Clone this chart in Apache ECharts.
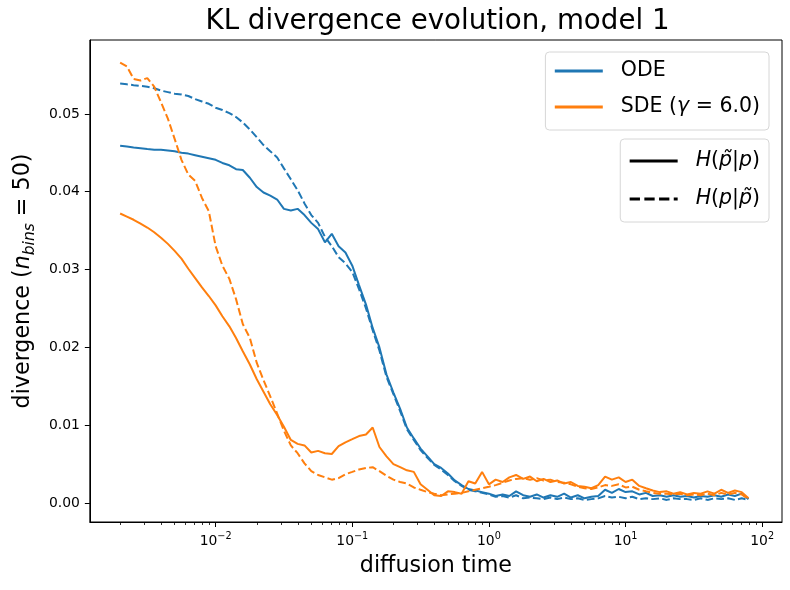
<!DOCTYPE html>
<html>
<head>
<meta charset="utf-8">
<script src="https://cdn.jsdelivr.net/npm/echarts@6/dist/echarts.min.js"></script>
<style>
  html, body { margin: 0; padding: 0; background: #fff; }
  #chart { width: 790px; height: 590px; }
</style>
</head>
<body>
<div id="chart"></div>
<script>
// diffusion times (log spaced)
const times = [
  0.0020, 0.00224, 0.00251, 0.00282, 0.00316, 0.00355, 0.00398, 0.00447, 0.00501, 0.00562,
  0.00631, 0.00708, 0.00794, 0.00891, 0.0100, 0.0112, 0.0126, 0.0141, 0.0158, 0.0178,
  0.0200, 0.0224, 0.0251, 0.0282, 0.0316, 0.0355, 0.0398, 0.0447, 0.0501, 0.0562,
  0.0631, 0.0708, 0.0794, 0.0891, 0.100, 0.112, 0.126, 0.141, 0.158, 0.178,
  0.200, 0.224, 0.251, 0.282, 0.316, 0.355, 0.398, 0.447, 0.501, 0.562,
  0.631, 0.708, 0.794, 0.891, 1.00, 1.12, 1.26, 1.41, 1.58, 1.78,
  2.00, 2.24, 2.51, 2.82, 3.16, 3.55, 3.98, 4.47, 5.01, 5.62,
  6.31, 7.08, 7.94, 8.91, 10.0, 11.2, 12.6, 14.1, 15.8, 17.8,
  20.0, 22.4, 25.1, 28.2, 31.6, 35.5, 39.8, 44.7, 50.1, 56.2,
  63.1, 70.8, 79.4
];

// ODE, H(p~|p)
const odeFwd = [
  0.0459, 0.0458, 0.0457, 0.0456, 0.0455, 0.0454, 0.0454, 0.0453, 0.0452, 0.0450,
  0.0449, 0.0447, 0.0445, 0.0443, 0.0441, 0.0437, 0.0434, 0.0429, 0.0428, 0.0418,
  0.0406, 0.0399, 0.0395, 0.0390, 0.0378, 0.0376, 0.0378, 0.0370, 0.0360, 0.0352,
  0.0335, 0.0346, 0.0330, 0.0322, 0.0305, 0.0280, 0.0255, 0.0225, 0.0200, 0.0165,
  0.0142, 0.0121, 0.0097, 0.0083, 0.0070, 0.0060, 0.0050, 0.0045, 0.0038, 0.0029,
  0.0023, 0.0018, 0.0016, 0.0014, 0.0012, 0.0009, 0.0011, 0.0009, 0.0015, 0.0010,
  0.0008, 0.0011, 0.0007, 0.0010, 0.0008, 0.0012, 0.0007, 0.0010, 0.0006, 0.0008,
  0.0009, 0.0017, 0.0013, 0.0018, 0.0014, 0.0015, 0.0011, 0.0013, 0.0009, 0.0010,
  0.0008, 0.0010, 0.0008, 0.0009, 0.0007, 0.0009, 0.0008, 0.0010, 0.0008, 0.0011,
  0.0009, 0.0012, 0.0005
];
// ODE, H(p|p~)
const odeRev = [
  0.0539, 0.0538, 0.0537, 0.0536, 0.0535, 0.0533, 0.0530, 0.0528, 0.0526, 0.0525,
  0.0523, 0.0519, 0.0516, 0.0513, 0.0508, 0.0505, 0.0501, 0.0496, 0.0489, 0.0480,
  0.0470, 0.0460, 0.0452, 0.0444, 0.0430, 0.0416, 0.0402, 0.0385, 0.0370, 0.0360,
  0.0342, 0.0330, 0.0316, 0.0308, 0.0297, 0.0275, 0.0250, 0.0222, 0.0196, 0.0162,
  0.0140, 0.0118, 0.0095, 0.0081, 0.0068, 0.0058, 0.0049, 0.0043, 0.0036, 0.0028,
  0.0022, 0.0017, 0.0015, 0.0013, 0.0011, 0.0008, 0.0009, 0.0007, 0.0010, 0.0006,
  0.0007, 0.0006, 0.0005, 0.0007, 0.0005, 0.0007, 0.0005, 0.0006, 0.0004, 0.0005,
  0.0006, 0.0009, 0.0007, 0.0008, 0.0006, 0.0008, 0.0005, 0.0006, 0.0005, 0.0006,
  0.0004, 0.0006, 0.0005, 0.0005, 0.0004, 0.0006, 0.0004, 0.0006, 0.0005, 0.0006,
  0.0004, 0.0006, 0.0004
];
// SDE, H(p~|p)
const sdeFwd = [
  0.0372, 0.0368, 0.0364, 0.0359, 0.0354, 0.0348, 0.0341, 0.0333, 0.0324, 0.0314,
  0.0301, 0.0289, 0.0277, 0.0266, 0.0254, 0.0240, 0.0227, 0.0212, 0.0195, 0.0178,
  0.0159, 0.0143, 0.0127, 0.0113, 0.0098, 0.0081, 0.0076, 0.0074, 0.0065, 0.0067,
  0.0064, 0.0063, 0.0073, 0.0078, 0.0082, 0.0086, 0.0088, 0.0097, 0.0072, 0.0060,
  0.0050, 0.0046, 0.0042, 0.0040, 0.0024, 0.0017, 0.0010, 0.0009, 0.0015, 0.0014,
  0.0012, 0.0028, 0.0025, 0.0040, 0.0024, 0.0030, 0.0027, 0.0033, 0.0036, 0.0031,
  0.0034, 0.0028, 0.0031, 0.0027, 0.0029, 0.0025, 0.0027, 0.0022, 0.0021, 0.0019,
  0.0023, 0.0034, 0.0030, 0.0033, 0.0027, 0.0030, 0.0022, 0.0019, 0.0016, 0.0014,
  0.0015, 0.0012, 0.0014, 0.0011, 0.0013, 0.0012, 0.0015, 0.0012, 0.0017, 0.0013,
  0.0016, 0.0014, 0.0006
];
// SDE, H(p|p~)
const sdeRev = [
  0.0566, 0.0561, 0.0545, 0.0543, 0.0546, 0.0535, 0.0515, 0.0494, 0.0468, 0.0441,
  0.0422, 0.0414, 0.0392, 0.0375, 0.0330, 0.0305, 0.0288, 0.0262, 0.0230, 0.0212,
  0.0180, 0.0158, 0.0137, 0.0115, 0.0093, 0.0074, 0.0064, 0.0051, 0.0041, 0.0036,
  0.0033, 0.0030, 0.0032, 0.0037, 0.0040, 0.0043, 0.0045, 0.0046, 0.0041, 0.0035,
  0.0030, 0.0027, 0.0025, 0.0020, 0.0017, 0.0014, 0.0012, 0.0010, 0.0011, 0.0012,
  0.0013, 0.0015, 0.0017, 0.0019, 0.0021, 0.0023, 0.0026, 0.0029, 0.0031, 0.0032,
  0.0030, 0.0032, 0.0029, 0.0030, 0.0027, 0.0026, 0.0024, 0.0021, 0.0019, 0.0018,
  0.0020, 0.0023, 0.0022, 0.0024, 0.0020, 0.0021, 0.0017, 0.0015, 0.0013, 0.0012,
  0.0012, 0.0011, 0.0012, 0.0010, 0.0011, 0.0010, 0.0012, 0.0010, 0.0013, 0.0011,
  0.0013, 0.0011, 0.0005
];

// tick values
const xMajorTicks = [0.01, 0.1, 1, 10, 100];
const xMinorTicks = [
  0.002, 0.003, 0.004, 0.005, 0.006, 0.007, 0.008, 0.009,
  0.02, 0.03, 0.04, 0.05, 0.06, 0.07, 0.08, 0.09,
  0.2, 0.3, 0.4, 0.5, 0.6, 0.7, 0.8, 0.9,
  2, 3, 4, 5, 6, 7, 8, 9,
  20, 30, 40, 50, 60, 70, 80, 90
];
const yTicks = [0, 0.01, 0.02, 0.03, 0.04, 0.05];

const FONT = "DejaVu Sans";
const BLUE = "#1f77b4";
const ORANGE = "#ff7f0e";
const DASH = [7.7, 3.3];

function pairs(ys) {
  return times.map((t, i) => [t, ys[i]]);
}

function lineSeries(name, ys, color, dash, width) {
  return {
    name: name,
    type: "line",
    xAxisIndex: 0,
    symbol: "none",
    silent: true,
    animation: false,
    lineStyle: { color: color, width: width || 2, type: dash || "solid" },
    itemStyle: { color: color },
    data: ys ? pairs(ys) : [],
  };
}

function legendBox(names, top, padding, gap, formatter) {
  return {
    data: names,
    orient: "vertical",
    right: 21,
    top: top,
    padding: padding,
    itemWidth: 48,
    itemHeight: 14,
    itemGap: gap,
    borderColor: "#d6d6d6",
    borderWidth: 1,
    borderRadius: 4,
    backgroundColor: "rgba(255,255,255,0.8)",
    selectedMode: false,
    itemStyle: { opacity: 0 },
    lineStyle: { width: 2.8 },
    formatter: formatter,
    textStyle: {
      fontFamily: FONT,
      fontSize: 20.5,
      lineHeight: 22,
      color: "#000",
      padding: [0, 0, 0, 13],
      rich: { i: { fontFamily: FONT, fontSize: 20.5, fontStyle: "italic", color: "#000" } },
    },
  };
}

const chart = echarts.init(document.getElementById("chart"));

let option = {
  animation: false,
  textStyle: { fontFamily: FONT },
  title: {
    text: "KL divergence evolution, model 1",
    left: 432.5,
    textAlign: "center",
    top: 3,
    textStyle: { fontFamily: FONT, fontSize: 27.7, fontWeight: "normal", color: "#000" },
  },
  grid: {
    left: 83,
    right: 8,
    top: 40,
    bottom: 68,
    show: true,
    borderColor: "#000",
    borderWidth: 1,
    backgroundColor: "transparent",
  },
  legend: [
    legendBox(["ODE", "SDE"], 52, [8, 9, 12, 8], 14, function (name) {
      return name === "SDE" ? "SDE ({i|\u03b3} = 6.0)" : name;
    }),
    legendBox(["h1", "h2"], 139, [11, 9, 12, 8], 16, function (name) {
      return name === "h1" ? "{i|H}({i|p\u0303}|{i|p})" : "{i|H}({i|p}|{i|p\u0303})";
    }),
  ],
  xAxis: [
    {
      type: "log",
      logBase: 10,
      min: 0.0012,
      max: 139.6,
      name: "diffusion time",
      nameLocation: "middle",
      nameGap: 33,
      nameTextStyle: { fontFamily: FONT, fontSize: 22.2, color: "#000" },
      axisLine: { show: true, onZero: false, lineStyle: { color: "#000", width: 1 } },
      axisTick: { show: true, length: 5, customValues: xMajorTicks, lineStyle: { color: "#000" } },
      minorTick: { show: false },
      splitLine: { show: false },
      axisLabel: {
        customValues: xMajorTicks,
        margin: 9,
        color: "#000",
        formatter: function (v) {
          const e = Math.round(Math.log10(v));
          return "{b|10}{e|" + (e < 0 ? "\u2212" + -e : e) + "}";
        },
        rich: {
          b: { fontFamily: FONT, fontSize: 13.9, lineHeight: 20, color: "#000" },
          e: { fontFamily: FONT, fontSize: 9.7, lineHeight: 10, verticalAlign: "top", color: "#000" },
        },
      },
    },
    {
      type: "log",
      logBase: 10,
      min: 0.0012,
      max: 139.6,
      position: "bottom",
      axisLine: { show: false, onZero: false },
      axisTick: { show: true, length: 3, customValues: xMinorTicks, lineStyle: { color: "#000", width: 0.8 } },
      axisLabel: { show: false },
      splitLine: { show: false },
    },
  ],
  yAxis: {
    type: "value",
    min: -0.00244,
    max: 0.0595,
    name: "divergence ({i|n}{s|bins} = 50)",
    nameLocation: "middle",
    nameGap: 50,
    nameTextStyle: {
      fontFamily: FONT,
      fontSize: 22.2,
      lineHeight: 30,
      color: "#000",
      rich: {
        i: { fontFamily: FONT, fontSize: 22.2, fontStyle: "italic", lineHeight: 30, color: "#000" },
        s: { fontFamily: FONT, fontSize: 15.5, fontStyle: "italic", lineHeight: 16, verticalAlign: "bottom", color: "#000" },
      },
    },
    axisLine: { show: true, onZero: false, lineStyle: { color: "#000", width: 1 } },
    axisTick: { show: true, length: 5, customValues: yTicks, lineStyle: { color: "#000" } },
    splitLine: { show: false },
    axisLabel: {
      customValues: yTicks,
      margin: 10,
      fontFamily: FONT,
      fontSize: 13.9,
      color: "#000",
      formatter: function (v) {
        return v.toFixed(2);
      },
    },
  },
  series: [
    lineSeries("ODE", odeFwd, BLUE),
    lineSeries("ODE", odeRev, BLUE, DASH),
    lineSeries("SDE", sdeFwd, ORANGE),
    lineSeries("SDE", sdeRev, ORANGE, DASH),
    // legend-only handles
    lineSeries("h1", null, "#000", null, 2.8),
    lineSeries("h2", null, "#000", [10.3, 4.4], 2.8),
  ],
};

chart.setOption(option);
</script>
</body>
</html>
